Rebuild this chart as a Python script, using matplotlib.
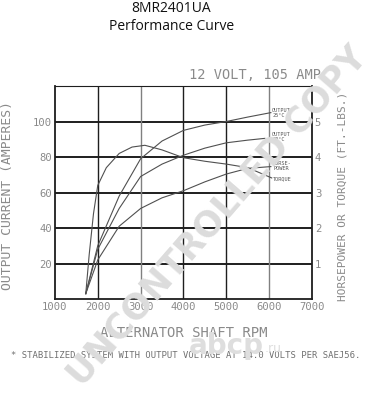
import numpy as np
import matplotlib.pyplot as plt

# ---------------------------------------------
# Curvas de rendimiento del alternador 8MR2401UA
# ---------------------------------------------
# Corriente de salida a 25 C (amperes)
rpm_25 = [1720, 2000, 2500, 3000, 3500, 4000, 4500, 5000, 5500, 6040]
amp_25 = [3, 30, 58, 79, 89, 95, 98, 100, 102.5, 105]
# Corriente de salida a 90 C (amperes)
rpm_90 = [1720, 2000, 2500, 3000, 3500, 4000, 4500, 5000, 5500, 5900]
amp_90 = [3, 28, 51, 69, 76, 81, 85, 88, 89.5, 90.5]
# Potencia (hp, eje derecho)
rpm_hp = [1720, 2000, 2500, 3000, 3500, 4000, 4500, 5000, 5500, 6040]
hp = [0.15, 1.1, 2.05, 2.55, 2.85, 3.05, 3.3, 3.52, 3.68, 3.73]
# Par (ft-lbs, eje derecho)
rpm_tq = [1720, 1800, 1900, 2000, 2200, 2500, 2800, 3100, 3500, 4000, 4500, 5000, 5500, 6060]
torque = [0.15, 1.25, 2.4, 3.2, 3.7, 4.1, 4.28, 4.33, 4.2, 3.98, 3.88, 3.8, 3.7, 3.41]

xticks = [1000, 2000, 3000, 4000, 5000, 6000, 7000]
yticks = [20, 40, 60, 80, 100]
yticks_der = [1, 2, 3, 4, 5]

mono = 'DejaVu Sans Mono'
gris = '#8a8a8a'
curva = '#505050'

fig = plt.figure(figsize=(3.71, 4.0), dpi=100)
ax = fig.add_axes([0.148, 0.2525, 0.693, 0.5325])
ax.set_xlim(1000, 7000)
ax.set_ylim(0, 120)

# rejilla gruesa
for y in yticks:
    ax.axhline(y, color='#1e1e1e', lw=1.4, zorder=1)
for x in xticks[1:-1]:
    c = '#808080' if x in (3000, 6000) else '#1e1e1e'
    ax.axvline(x, color=c, lw=1.0, zorder=1)
for s in ax.spines.values():
    s.set_color('#1e1e1e')
    s.set_linewidth(1.3)
ax.spines['top'].set_linewidth(0.8)

# curvas
ax.plot(rpm_25, amp_25, color=curva, lw=0.8, zorder=3)
ax.plot(rpm_90, amp_90, color=curva, lw=0.8, zorder=3)
ax.plot(rpm_hp, np.array(hp) * 20, color=curva, lw=0.8, zorder=3)
ax.plot(rpm_tq, np.array(torque) * 20, color=curva, lw=0.8, zorder=3)

# etiquetas de las curvas
kw = dict(fontsize=3.8, family=mono, color='#555555', va='center', linespacing=1.0)
ax.text(6070, 105, 'OUTPUT\n25°C', **kw)
ax.text(6070, 91.5, 'OUTPUT\n90°C', **kw)
ax.text(6090, 75, 'HORSE-\nPOWER', **kw)
ax.text(6090, 67.5, 'TORQUE', **kw)

ax.set_xticks(xticks)
ax.set_yticks(yticks)
ax.tick_params(length=0, labelsize=7.6, labelcolor=gris, pad=2)
for t in ax.get_xticklabels() + ax.get_yticklabels():
    t.set_family(mono)

ax2 = ax.twinx()
ax2.set_ylim(0, 6)
ax2.set_yticks(yticks_der)
ax2.tick_params(length=0, labelsize=7.6, labelcolor=gris, pad=2)
for t in ax2.get_yticklabels():
    t.set_family(mono)
for s in ax2.spines.values():
    s.set_visible(False)

ax.set_xlabel('ALTERNATOR SHAFT RPM', family=mono, fontsize=10, color=gris, labelpad=10)
fig.text(0.02, 0.51, 'OUTPUT CURRENT (AMPERES)', rotation=90, family=mono,
         fontsize=9.4, color=gris, ha='center', va='center')
fig.text(0.922, 0.51, 'HORSEPOWER OR TORQUE (FT.-LBS.)', rotation=90, family=mono,
         fontsize=8, color=gris, ha='center', va='center')
fig.text(0.686, 0.812, '12 VOLT, 105 AMP', family=mono, fontsize=9.8, color=gris,
         ha='center', va='center')
fig.text(0.5, 0.112, '* STABILIZED SYSTEM WITH OUTPUT VOLTAGE AT 14.0 VOLTS PER SAEJ56.',
         family=mono, fontsize=6.4, color='#707070', ha='center', va='center')

# titulo
fig.text(0.462, 0.978, '8MR2401UA', family='Open Sans', fontsize=10, color='#111111',
         ha='center', va='center')
fig.text(0.462, 0.935, 'Performance Curve', family='Open Sans', fontsize=10,
         color='#111111', ha='center', va='center')

# marcas de agua
fig.text(0.585, 0.46, 'UNCONTROLLED COPY', family='DejaVu Sans', fontweight='bold',
         fontsize=25, color='#dcdcdc', rotation=49, ha='center', va='center', zorder=10)
fig.text(0.61, 0.135, 'abcp', family='DejaVu Sans', fontweight='bold', fontsize=20,
         color='#dedede', ha='center', va='center', zorder=9)
fig.text(0.735, 0.128, '.ru', family='DejaVu Sans', fontsize=9,
         color='#dedede', ha='center', va='center', zorder=9)

fig.savefig('out.png', dpi=100)
